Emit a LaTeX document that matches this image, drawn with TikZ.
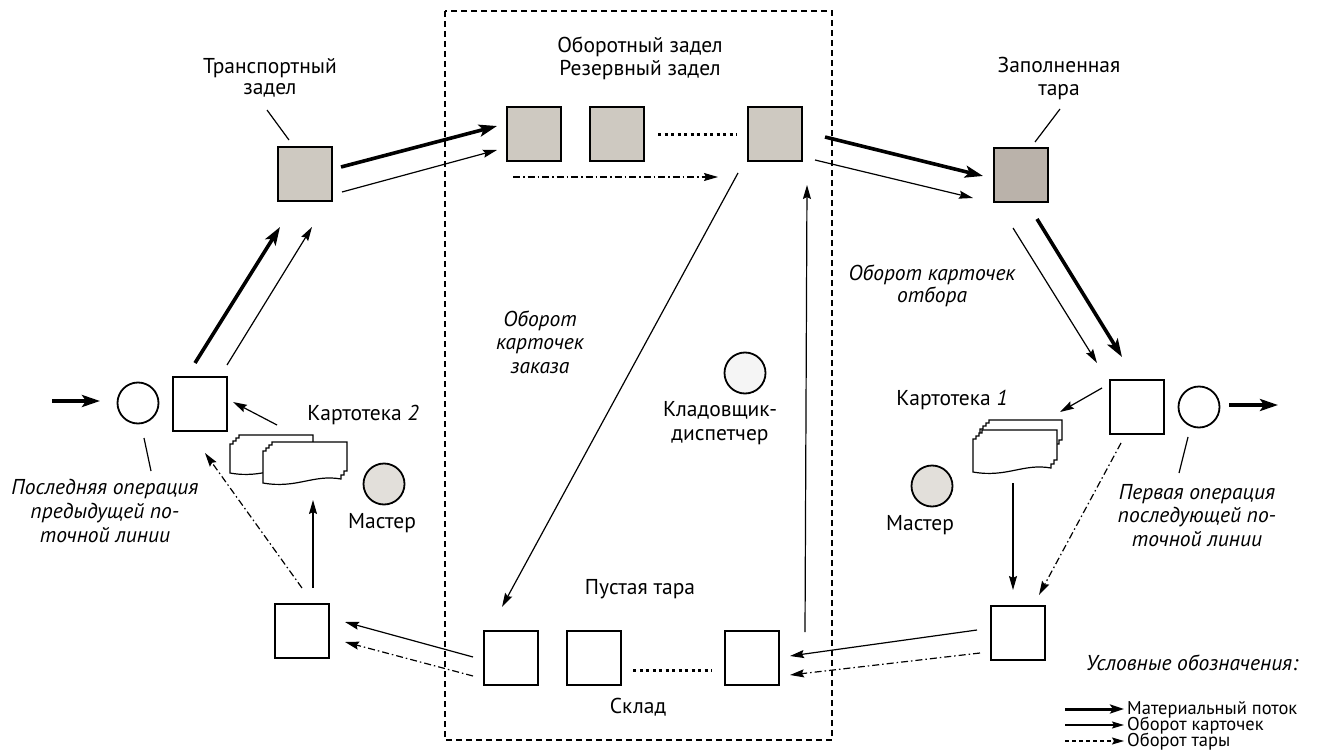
\documentclass[tikz,border=0pt]{standalone}
\usepackage{fontspec}
\setmainfont{PT Sans}
\usetikzlibrary{arrows.meta,calc}

\definecolor{shadeA}{RGB}{206,201,193}
\definecolor{shadeB}{RGB}{186,178,170}
\definecolor{circfill}{RGB}{226,223,218}

% one file card with a stepped corner and a wavy lower edge
\newcommand{\kcard}[4]{%
  \filldraw[cardline] (#1,#2+#4) -- (#1,#2+9) -- (#1+3,#2+9) -- (#1+3,#2+6)
    -- (#1+6,#2+6) -- (#1+6,#2+3) -- (#1+9,#2+3) -- (#1+9,#2) -- (#1+#3,#2)
    -- (#1+#3,#2+#4-12) -- (#1+#3-3,#2+#4-12) -- (#1+#3-3,#2+#4-8)
    -- (#1+#3-6,#2+#4-8) -- (#1+#3-6,#2+#4-4)
    .. controls (#1+0.6*#3,#2+#4-9) and (#1+0.4*#3,#2+#4+6) .. (#1,#2+#4) -- cycle;}

\tikzset{
  sq/.style={draw, line width=2pt, minimum size=54pt, inner sep=0pt, fill=white},
  shaded/.style={sq, fill=shadeA},
  circ/.style={draw, circle, line width=1.8pt, minimum size=41pt, inner sep=0pt, fill=white},
  grey circ/.style={circ, fill=circfill},
  mat/.style={line width=3.6pt, -{Stealth[length=18pt,width=12pt,inset=4pt]}},
  crd/.style={line width=1.2pt, -{Stealth[length=14pt,width=8pt,inset=2pt]}},
  tare/.style={crd, dash pattern=on 7pt off 3pt on 1.5pt off 3pt},
  lead/.style={line width=1.2pt},
  cardline/.style={line width=1.2pt, fill=white},
  dotrow/.style={line width=3pt, dash pattern=on 3pt off 3.5pt},
  lbl/.style={font=\fontsize{21.5}{23}\selectfont, inner sep=0pt, align=center},
  ilbl/.style={font=\fontsize{21.5}{23.5}\selectfont\itshape, inner sep=0pt, align=center},
  leg/.style={font=\fontsize{18.5}{18}\selectfont, inner sep=0pt, anchor=base west},
  legarrow/.style={shorten >=3pt},
}

\begin{document}
\begin{tikzpicture}[x=1pt, y=-1pt]
\useasboundingbox (0,0) rectangle (1340,751);

% storage area
\draw[line width=1.2pt, dash pattern=on 6pt off 4pt] (445,11) rectangle (832,740);

% containers and work places
\node[circ] (lc) at (138,403) {};
\node[sq] (ls) at (200,404) {};
\node[shaded] (ts) at (304.5,174.5) {};
\node[shaded] (o1) at (534,134.5) {};
\node[shaded] (o2) at (617,134.5) {};
\node[shaded] (o3) at (774.5,134.5) {};
\node[sq, fill=shadeB] (fs) at (1020.5,175.5) {};
\node[sq] (rs) at (1136.5,406.5) {};
\node[circ] (rc) at (1199,407) {};
\node[sq] (bl) at (301.5,630.5) {};
\node[sq] (br) at (1018,632.5) {};
\node[sq] (p1) at (511,658) {};
\node[sq] (p2) at (594,658) {};
\node[sq] (p3) at (752,658) {};
\node[grey circ] (m2) at (384,484) {};
\node[grey circ] (m1) at (932,486) {};
\node[circ, fill=white!96!black] (kd) at (745,373) {};

% rows of containers continue
\draw[dotrow] ($(o2)+(41,0)$) -- ($(o3)+(-38,0)$);
\draw[dotrow] ($(p2)+(39,12)$) -- ($(p3)+(-40,12)$);

% card files
\kcard{230}{435}{83}{38}
\kcard{263}{442}{84}{41}
\node[inner sep=0pt] (k2) at (305,462) {};
\kcard{980}{420}{82}{32}
\kcard{973}{430}{84}{42}
\node[inner sep=0pt] (k1) at (1015,451) {};

% labels
\node[lbl, font=\fontsize{21.5}{21}\selectfont] (tTrans) at (270,77.5) {Транспортный\\задел};
\node[lbl] (tObor) at (640,58.5) {Оборотный задел\\Резервный задел};
\node[lbl] (tZap) at (1059,78.5) {Заполненная\\тара};
\node[ilbl, font=\fontsize{21.5}{22}\selectfont\itshape] (tOtb) at (932,286) {Оборот карточек\\отбора};
\node[ilbl] (tZak) at (540,342) {Оборот\\карточек\\заказа};
\node[lbl, font=\fontsize{21.5}{24}\selectfont] (tKlad) at (720,423) {Кладовщик-\\диспетчер};
\node[lbl] (tK2) at (363,415) {Картотека \textit{2}};
\node[lbl] (tK1) at (952,400) {Картотека \textit{1}};
\node[lbl] (tM2) at (382,523) {Мастер};
\node[lbl] (tM1) at (920,525) {Мастер};
\node[ilbl, font=\fontsize{21.5}{24}\selectfont\itshape] (tLast) at (105,511) {Последняя операция\\предыдущей по-\\точной линии};
\node[ilbl] (tFirst) at (1197,515.5) {Первая операция\\последующей по-\\точной линии};
\node[lbl] (tEmpty) at (640,589) {Пустая тара};
\node[lbl] (tSklad) at (638,707) {Склад};

% leader lines
\draw[lead] ($(lc)+(6,35)$) -- ($(lc)+(13,68)$);
\draw[lead] ($(rc)+(-11,30)$) -- ($(rc)+(-20,66)$);
\draw[lead] ($(ts)+(-37.5,-64.5)$) -- ($(ts)+(-15.5,-34.5)$);
\draw[lead] ($(fs)+(39.5,-66.5)$) -- ($(fs)+(14.5,-33.5)$);

% material flow
\coordinate (in) at (52,401);
\draw[mat] (in) -- ($(lc)+(-38,-2)$);
\draw[mat] ($(rc)+(30,-2)$) -- ($(rc)+(79,-2)$);
\draw[mat] ($(ls)+(-5,-41)$) -- ($(ts)+(-24.5,52.5)$);
\draw[mat] ($(ts)+(36.5,-7.5)$) -- ($(o1)+(-37,-8.5)$);
\draw[mat] ($(o3)+(50.5,2.5)$) -- ($(fs)+(-37.5,0.5)$);
\draw[mat] ($(fs)+(16.5,43.5)$) -- ($(rs)+(-14.5,-49.5)$);

% card circulation
\draw[crd] ($(ls)+(27,-39)$) -- ($(ts)+(7.5,52.5)$);
\draw[crd] ($(ts)+(37.5,17.5)$) -- ($(o1)+(-37,15.5)$);
\draw[crd] ($(o3)+(40.5,25.5)$) -- ($(fs)+(-47.5,22.5)$);
\draw[crd] ($(fs)+(-7.5,52.5)$) -- ($(rs)+(-39.5,-43.5)$);
\draw[crd] ($(rs)+(-34.5,-18.5)$) -- ($(k1)+(45,-39)$);
\draw[crd] ($(k1)+(-2,32)$) -- ($(br)+(-5,-42.5)$);
\draw[crd] ($(br)+(-41,-2.5)$) -- ($(p3)+(38,-2)$);
\draw[crd] ($(p3)+(53,-26)$) -- ($(o3)+(32.5,50.5)$);
\draw[crd] ($(o3)+(-36.5,38.5)$) -- ($(p1)+(-9,-51)$);
\draw[crd] ($(p1)+(-38,-1)$) -- ($(bl)+(43.5,-8.5)$);
\draw[crd] ($(bl)+(11.5,-42.5)$) -- ($(k2)+(8,38)$);
\draw[crd] ($(k2)+(-28,-37)$) -- ($(ls)+(33,-2)$);

% container circulation
\draw[tare] ($(o1)+(-21,42.5)$) -- ($(o3)+(-56.5,42.5)$);
\draw[tare] ($(rs)+(-15.5,36.5)$) -- ($(br)+(21,-37.5)$);
\draw[tare] ($(br)+(-38,20.5)$) -- ($(p3)+(38,17)$);
\draw[tare] ($(p1)+(-38,18)$) -- ($(bl)+(43.5,11.5)$);
\draw[tare] ($(bl)+(0.5,-42.5)$) -- ($(ls)+(5,49)$);

% key
\node[ilbl, anchor=center] (kTitle) at (1192,663) {Условные обозначения:};
\node[leg] (kAt) at (1127,714) {Материальный поток};
\node[leg] (kBt) at (1127,730) {Оборот карточек};
\node[leg] (kCt) at (1127,746) {Оборот тары};
\coordinate (kA) at (1065,709);
\coordinate (kB) at (1065,725);
\coordinate (kC) at (1065,741);
\draw[legarrow, line width=3pt, -{Stealth[length=14pt,width=9pt,inset=3pt]}] (kA) -- (kA -| kAt.west);
\draw[legarrow, line width=1.2pt, -{Stealth[length=12pt,width=7pt,inset=2pt]}] (kB) -- (kB -| kBt.west);
\draw[legarrow, line width=1.2pt, dash pattern=on 4pt off 3pt, -{Stealth[length=12pt,width=7pt,inset=2pt]}] (kC) -- (kC -| kCt.west);
\end{tikzpicture}
\end{document}
